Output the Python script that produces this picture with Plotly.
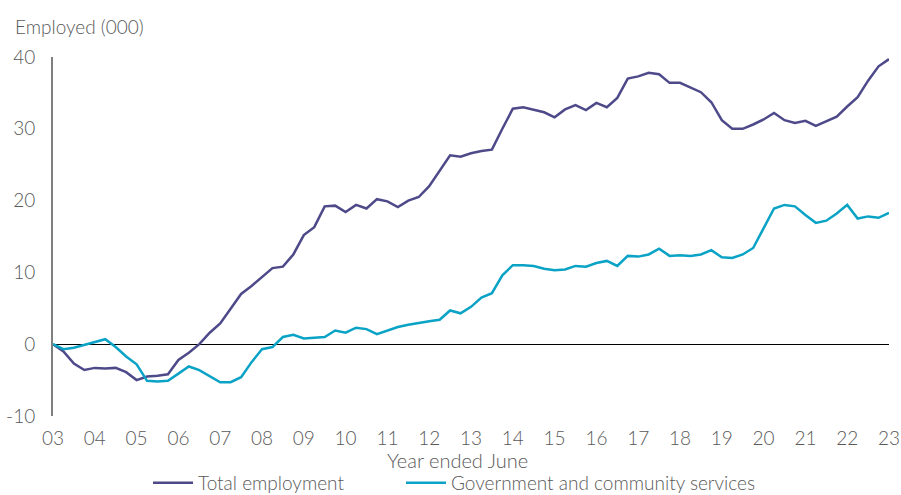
import plotly.graph_objects as go

start_year = 2003
quarters_per_year = 4

total_employment = [
    0.0, -1.0, -2.7, -3.6, -3.3, -3.4, -3.3, -3.9, -5.0, -4.5,
    -4.4, -4.2, -2.2, -1.2, 0.0, 1.6, 2.9, 5.0, 7.0, 8.1,
    9.4, 10.6, 10.8, 12.5, 15.2, 16.3, 19.2, 19.3, 18.4, 19.4,
    18.9, 20.2, 19.9, 19.1, 20.0, 20.5, 22.0, 24.1, 26.3, 26.1,
    26.6, 26.9, 27.1, 30.0, 32.8, 33.0, 32.7, 32.3, 31.6, 32.7,
    33.3, 32.6, 33.6, 33.0, 34.3, 37.0, 37.3, 37.8, 37.6, 36.4,
    36.4, 35.8, 35.1, 33.7, 31.2, 30.0, 30.0, 30.6, 31.3, 32.2,
    31.2, 30.8, 31.1, 30.4, 31.0, 31.7, 33.1, 34.4, 36.7, 38.7,
    39.7,
]

gov_community = [
    0.0, -0.7, -0.5, -0.1, 0.2, 0.7, -0.4, -1.7, -2.8, -5.1,
    -5.2, -5.1, -4.1, -3.1, -3.6, -4.5, -5.3, -5.3, -4.6, -2.5,
    -0.7, -0.4, 1.0, 1.3, 0.8, 0.9, 1.0, 1.9, 1.6, 2.3,
    2.1, 1.4, 1.9, 2.4, 2.7, 3.0, 3.2, 3.4, 4.7, 4.3,
    5.2, 6.5, 7.1, 9.6, 11.0, 11.0, 10.9, 10.5, 10.3, 10.4,
    10.9, 10.8, 11.3, 11.6, 10.9, 12.3, 12.2, 12.5, 13.3, 12.3,
    12.4, 12.3, 12.5, 13.1, 12.1, 12.0, 12.5, 13.4, 16.1, 18.9,
    19.4, 19.2, 18.0, 16.9, 17.2, 18.2, 19.4, 17.5, 17.8, 17.6,
    18.3,
]

year_ticks = list(range(2003, 2024))
year_labels = [f"{y % 100:02d}" for y in year_ticks]
y_ticks = [-10, 0, 10, 20, 30, 40]
y_labels = ["-10", "0", "10", "20", "30", "40"]

x_vals = [start_year + i / quarters_per_year for i in range(len(total_employment))]

FONT = "Lato, 'Open Sans', sans-serif"
GRAY = "#595959"
W, H = 901, 495
ML, MT = 53, 57
MR = W - 889
MB = H - 416
PW = W - ML - MR
PH = H - MT - MB


def px_x(px):
    return (px - ML) / PW


def px_y(py):
    return (H - MB - py) / PH


fig = go.Figure()
fig.add_trace(go.Scatter(
    x=x_vals, y=total_employment, mode="lines",
    name="Total employment", legend="legend",
    line=dict(color="#4E4A8A", width=2.5),
))
fig.add_trace(go.Scatter(
    x=x_vals, y=gov_community, mode="lines",
    name="Government and community services", legend="legend2",
    line=dict(color="#0AA3C6", width=2.5),
))

legend_common = dict(
    orientation="h", xanchor="left", yanchor="middle",
    font=dict(size=19, color=GRAY, weight=300),
    itemwidth=40, bgcolor="rgba(0,0,0,0)",
)

fig.update_layout(
    width=W, height=H,
    margin=dict(l=ML, r=MR, t=MT, b=MB, autoexpand=False),
    paper_bgcolor="white", plot_bgcolor="white",
    font=dict(family=FONT, color=GRAY, size=19, weight=300),
    showlegend=True,
    legend=dict(x=px_x(148), y=px_y(483), **legend_common),
    legend2=dict(x=px_x(401), y=px_y(483), **legend_common),
    annotations=[
        dict(
            text="Employed (000)", x=px_x(13), xref="paper", y=px_y(27), yref="paper",
            showarrow=False, xanchor="left", yanchor="middle",
            font=dict(size=19, color=GRAY, weight=300),
        ),
        dict(
            text="Year ended June", x=px_x(457), xref="paper", y=px_y(460), yref="paper",
            showarrow=False, xanchor="center", yanchor="middle",
            font=dict(size=20, color=GRAY, weight=300),
        ),
    ],
)

fig.update_xaxes(
    range=[2003, 2023], tickmode="array", tickvals=year_ticks, ticktext=year_labels,
    showgrid=False, zeroline=False, showline=False, ticks="",
    automargin=False, ticklabelstandoff=9,
    tickfont=dict(size=19, color=GRAY, weight=300),
)
fig.update_yaxes(
    range=[-10, 40], tickmode="array", tickvals=y_ticks, ticktext=y_labels,
    showgrid=False, zeroline=True, zerolinecolor="#000000", zerolinewidth=1,
    showline=True, linecolor="#7F7F7F", linewidth=2, ticks="",
    automargin=False,
    tickfont=dict(size=19, color=GRAY, weight=300), ticklabelstandoff=12,
)

fig.write_html(
    "out.html",
    config={"displayModeBar": False},
    post_script="document.body.style.margin='0';document.body.style.overflow='hidden';",
)
